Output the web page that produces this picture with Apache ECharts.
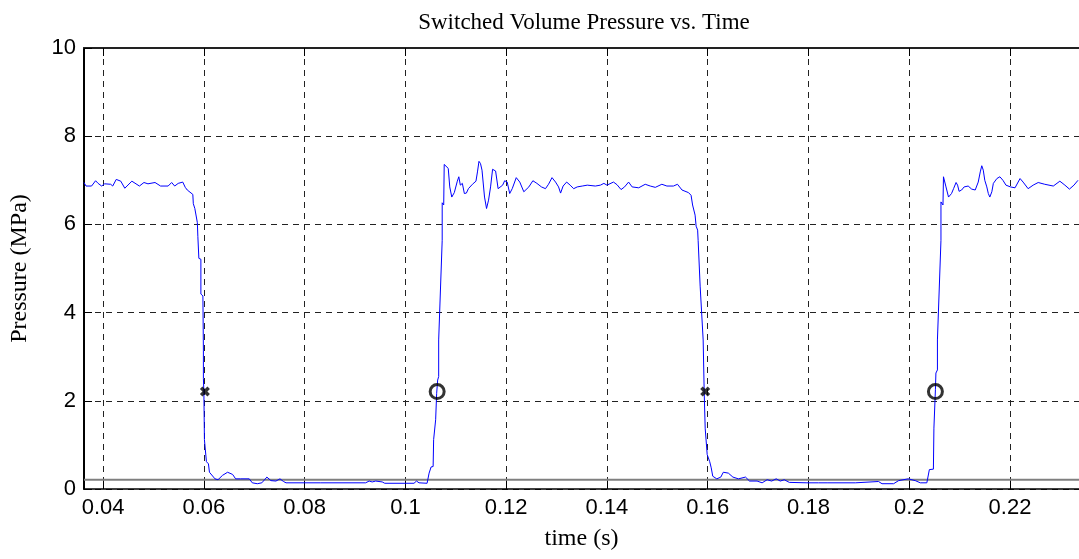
<!DOCTYPE html>
<html>
<head>
<meta charset="utf-8">
<title>Switched Volume Pressure vs. Time</title>
<script src="https://cdn.jsdelivr.net/npm/echarts@6/dist/echarts.min.js"></script>
<style>
  html, body { margin: 0; padding: 0; background: #fff; }
  #chart { width: 1079px; height: 559px; }
</style>
</head>
<body>
<div id="chart"></div>
<script>
// Sampled pressure trace (s, MPa)
const timeS = [
  0.0362, 0.0366, 0.0377, 0.0385, 0.0390, 0.0397, 0.0403, 0.0415, 0.0419, 0.0426,
  0.0435, 0.0443, 0.0457, 0.0472, 0.0481, 0.0489, 0.0503, 0.0514, 0.0529, 0.0536,
  0.0542, 0.0549, 0.0558, 0.0563, 0.0567, 0.0578, 0.0579, 0.0582, 0.0587, 0.0588,
  0.0590, 0.0594, 0.0594, 0.0598, 0.0599, 0.0599, 0.0600, 0.0601, 0.0604, 0.0605,
  0.0609, 0.0611, 0.0622, 0.0628, 0.0637, 0.0647, 0.0657, 0.0663, 0.0673, 0.0690,
  0.0696, 0.0706, 0.0715, 0.0725, 0.0733, 0.0743, 0.0751, 0.0758, 0.0763, 0.0832,
  0.0921, 0.0928, 0.0934, 0.0941, 0.0954, 0.0959, 0.1017, 0.1022, 0.1027, 0.1043,
  0.1047, 0.1051, 0.1055, 0.1056, 0.1059, 0.1060, 0.1062, 0.1062, 0.1064, 0.1066,
  0.1066, 0.1073, 0.1073, 0.1076, 0.1077, 0.1085, 0.1088, 0.1092, 0.1094, 0.1097,
  0.1103, 0.1106, 0.1109, 0.1113, 0.1117, 0.1121, 0.1125, 0.1133, 0.1140, 0.1143,
  0.1146, 0.1149, 0.1152, 0.1157, 0.1161, 0.1165, 0.1169, 0.1173, 0.1179, 0.1184,
  0.1187, 0.1193, 0.1197, 0.1202, 0.1207, 0.1212, 0.1220, 0.1227, 0.1235, 0.1245,
  0.1253, 0.1261, 0.1270, 0.1278, 0.1284, 0.1291, 0.1298, 0.1304, 0.1308, 0.1313,
  0.1320, 0.1327, 0.1334, 0.1341, 0.1351, 0.1361, 0.1377, 0.1387, 0.1394, 0.1400,
  0.1413, 0.1420, 0.1428, 0.1435, 0.1443, 0.1450, 0.1463, 0.1476, 0.1486, 0.1496,
  0.1509, 0.1519, 0.1532, 0.1540, 0.1549, 0.1562, 0.1567, 0.1570, 0.1575, 0.1577,
  0.1580, 0.1581, 0.1585, 0.1591, 0.1593, 0.1595, 0.1597, 0.1599, 0.1604, 0.1607,
  0.1610, 0.1618, 0.1626, 0.1631, 0.1641, 0.1650, 0.1661, 0.1675, 0.1683, 0.1698,
  0.1708, 0.1718, 0.1727, 0.1736, 0.1744, 0.1752, 0.1762, 0.1797, 0.1820, 0.1837,
  0.1893, 0.1896, 0.1939, 0.1946, 0.1969, 0.1979, 0.1998, 0.2012, 0.2022, 0.2035,
  0.2040, 0.2048, 0.2049, 0.2052, 0.2052, 0.2053, 0.2056, 0.2056, 0.2063, 0.2063,
  0.2067, 0.2068, 0.2071, 0.2073, 0.2078, 0.2084, 0.2088, 0.2093, 0.2096, 0.2099,
  0.2104, 0.2109, 0.2117, 0.2124, 0.2131, 0.2137, 0.2141, 0.2144, 0.2147, 0.2150,
  0.2154, 0.2157, 0.2160, 0.2164, 0.2167, 0.2174, 0.2180, 0.2186, 0.2192, 0.2201,
  0.2210, 0.2220, 0.2226, 0.2236, 0.2246, 0.2256, 0.2269, 0.2286, 0.2299, 0.2309,
  0.2318, 0.2327, 0.2335
];
const pressureMPa = [
  6.95, 6.87, 6.87, 6.99, 6.93, 6.87, 6.92, 6.91, 6.87, 7.02,
  6.98, 6.82, 6.98, 6.87, 6.95, 6.92, 6.95, 6.87, 6.87, 6.95,
  6.87, 6.93, 6.96, 6.84, 6.78, 6.68, 6.47, 6.36, 6.04, 5.73,
  5.23, 5.21, 4.42, 4.38, 3.15, 2.51, 2.17, 1.12, 1.10, 0.62,
  0.57, 0.38, 0.23, 0.21, 0.31, 0.38, 0.33, 0.23, 0.23, 0.23,
  0.14, 0.12, 0.14, 0.27, 0.19, 0.18, 0.23, 0.17, 0.14, 0.14,
  0.14, 0.18, 0.16, 0.18, 0.16, 0.13, 0.13, 0.18, 0.14, 0.13,
  0.36, 0.50, 0.51, 1.12, 1.15, 1.57, 1.59, 2.17, 2.47, 2.55,
  3.38, 5.64, 6.49, 6.44, 7.36, 7.27, 6.85, 6.62, 6.64, 6.72,
  6.98, 7.08, 6.89, 6.93, 6.70, 6.71, 6.81, 6.91, 6.98, 7.19,
  7.43, 7.38, 7.23, 6.62, 6.36, 6.55, 6.85, 7.25, 7.21, 6.81,
  6.78, 6.89, 6.99, 6.96, 6.70, 6.81, 7.06, 6.96, 6.74, 6.85,
  6.99, 6.93, 6.85, 6.81, 6.91, 7.06, 6.96, 6.85, 6.71, 6.87,
  6.96, 6.89, 6.81, 6.85, 6.87, 6.89, 6.87, 6.89, 6.93, 6.89,
  6.96, 6.90, 6.79, 6.85, 6.96, 6.85, 6.83, 6.91, 6.87, 6.84,
  6.91, 6.87, 6.87, 6.91, 6.78, 6.72, 6.66, 6.44, 6.21, 5.96,
  5.87, 5.64, 4.60, 3.38, 2.21, 1.38, 1.34, 0.78, 0.62, 0.48,
  0.29, 0.23, 0.27, 0.38, 0.36, 0.27, 0.23, 0.27, 0.18, 0.18,
  0.14, 0.21, 0.18, 0.23, 0.18, 0.21, 0.15, 0.14, 0.14, 0.14,
  0.14, 0.17, 0.17, 0.12, 0.12, 0.19, 0.23, 0.19, 0.14, 0.14,
  0.44, 0.45, 1.38, 1.42, 2.25, 2.63, 2.70, 3.38, 5.64, 6.51,
  6.44, 7.08, 7.04, 6.85, 6.62, 6.70, 6.81, 6.95, 6.89, 6.75,
  6.78, 6.85, 6.87, 6.80, 6.78, 6.96, 7.19, 7.33, 7.23, 7.00,
  6.85, 6.70, 6.62, 6.74, 6.93, 7.04, 7.08, 7.00, 6.89, 6.85,
  6.83, 7.04, 6.96, 6.81, 6.89, 6.95, 6.91, 6.87, 6.98, 6.89,
  6.80, 6.89, 7.00
];

// Valve-close events (x marks) and valve-open events (circles)
const closeTimes = [0.0602, 0.1595];
const closePressure = [2.21, 2.21];
const openTimes = [0.1063, 0.2052];
const openPressure = [2.21, 2.21];

// Reference pressure level drawn across the whole time window
const referencePressure = 0.21;

// Axis extents and tick spacing
const timeMin = 0.0362;
const timeMax = 0.2337;
const timeStep = 0.02;
const pressureMin = 0;
const pressureMax = 10;
const pressureStep = 2;

const zip = (xs, ys) => xs.map((x, i) => [x, ys[i]]);

const tickFont = 'Liberation Sans, Arial, sans-serif';
const serifFont = 'Liberation Serif, Times New Roman, serif';
const gridLine = { show: true, lineStyle: { color: '#222', width: 1, type: [6, 5] } };

// bold "x" glyph for the close events
const crossPath = 'path://M2.5,0 L5,2.5 L7.5,0 L10,2.5 L7.5,5 L10,7.5 L7.5,10 L5,7.5 L2.5,10 L0,7.5 L2.5,5 L0,2.5 Z';

const chart = echarts.init(document.getElementById('chart'), null, { renderer: 'canvas' });

chart.setOption({
  backgroundColor: '#ffffff',
  animation: false,
  title: {
    text: 'Switched Volume Pressure vs. Time',
    left: 579,
    top: 6,
    textAlign: 'center',
    textStyle: { fontFamily: serifFont, fontWeight: 'normal', fontSize: 23, color: '#000' }
  },
  grid: { left: 83, top: 48, width: 996, height: 441, containLabel: false },
  xAxis: [
    {
      type: 'value',
      min: timeMin,
      max: timeMax,
      splitNumber: 10,
      minInterval: timeStep,
      maxInterval: timeStep,
      name: 'time (s)',
      nameLocation: 'middle',
      nameGap: 38,
      nameTextStyle: { fontFamily: serifFont, fontSize: 24, color: '#000' },
      axisLine: { show: true, lineStyle: { color: '#000', width: 1.5 } },
      axisTick: { show: true, inside: true, length: 8, lineStyle: { color: '#000', width: 1 } },
      axisLabel: {
        show: true, margin: 8, fontFamily: tickFont, fontSize: 22, color: '#000',
        showMinLabel: false, showMaxLabel: false
      },
      splitLine: gridLine
    },
    {
      type: 'value',
      position: 'top',
      min: timeMin,
      max: timeMax,
      splitNumber: 10,
      minInterval: timeStep,
      maxInterval: timeStep,
      axisLine: { show: true, onZero: false, lineStyle: { color: '#222', width: 2 } },
      axisTick: { show: true, inside: true, length: 8, lineStyle: { color: '#000', width: 1 } },
      axisLabel: { show: false },
      splitLine: { show: false }
    }
  ],
  yAxis: {
    type: 'value',
    min: pressureMin,
    max: pressureMax,
    interval: pressureStep,
    name: 'Pressure (MPa)',
    nameLocation: 'middle',
    nameGap: 52,
    nameTextStyle: { fontFamily: serifFont, fontSize: 24, color: '#000' },
    axisLine: { show: true, lineStyle: { color: '#000', width: 2 } },
    axisTick: { show: true, inside: true, length: 8, lineStyle: { color: '#000', width: 1 } },
    axisLabel: { show: true, margin: 8, fontFamily: tickFont, fontSize: 22, color: '#000' },
    splitLine: gridLine
  },
  series: [
    {
      name: 'reference',
      type: 'line',
      data: [[timeMin, referencePressure], [timeMax, referencePressure]],
      symbol: 'none',
      lineStyle: { color: '#7f7f7f', width: 2 },
      z: 2
    },
    {
      name: 'pressure',
      type: 'line',
      data: zip(timeS, pressureMPa),
      symbol: 'none',
      lineStyle: { color: '#0000ff', width: 1 },
      z: 3
    },
    {
      name: 'close',
      type: 'scatter',
      data: zip(closeTimes, closePressure),
      symbol: crossPath,
      symbolSize: 10,
      itemStyle: { color: '#000' },
      z: 4
    },
    {
      name: 'open',
      type: 'scatter',
      data: zip(openTimes, openPressure),
      symbol: 'circle',
      symbolSize: 14,
      itemStyle: { color: 'rgba(0,0,0,0)', borderColor: '#000', borderWidth: 3 },
      z: 4
    }
  ]
});
</script>
</body>
</html>
